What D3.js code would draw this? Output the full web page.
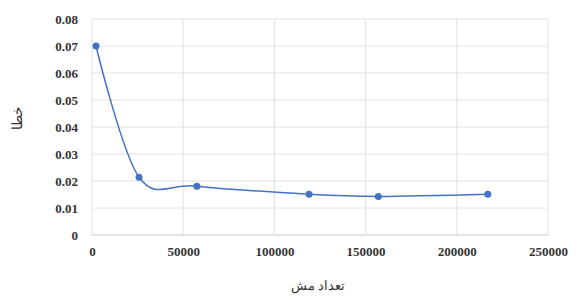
<!DOCTYPE html>
<html>
<head>
<meta charset="utf-8">
<script src="https://cdn.jsdelivr.net/npm/d3@7"></script>
<style>
  body { margin: 0; background: #fff; }
  svg text { font-family: "Liberation Serif", "DejaVu Serif", "Times New Roman", serif !important; }
</style>
</head>
<body>
<div id="chart"></div>
<script>
var meshCount = [2200, 25800, 57500, 119000, 157000, 217000];
var errorVals = [0.070, 0.0214, 0.0181, 0.0151, 0.0143, 0.0151];
var xTicks = [0, 50000, 100000, 150000, 200000, 250000];
var yTicks = [0, 0.01, 0.02, 0.03, 0.04, 0.05, 0.06, 0.07, 0.08];
var xTitle = "تعداد مش";
var yTitle = "خطا";

function init(){
    var w = 578;
    var h = 300;
    var serif = "'Liberation Serif', 'DejaVu Serif', serif";

    var svg = d3.select("#chart")
                .append("svg")
                .attr("width", w)
                .attr("height", h);

    var x = d3.scaleLinear().domain([0, 250000]).range([92, 548]);
    var y = d3.scaleLinear().domain([0, 0.08]).range([235, 19]);

    // gridlines
    svg.selectAll("line.hgrid")
        .data(yTicks)
        .enter()
        .append("line")
        .attr("x1", x(0))
        .attr("x2", x(250000))
        .attr("y1", function(d){ return y(d); })
        .attr("y2", function(d){ return y(d); })
        .style("stroke", function(d){ return d === 0 ? "#c8c8c8" : "#e2e2e2"; })
        .style("stroke-width", 1);

    svg.selectAll("line.vgrid")
        .data(xTicks)
        .enter()
        .append("line")
        .attr("x1", function(d){ return x(d); })
        .attr("x2", function(d){ return x(d); })
        .attr("y1", y(0.08))
        .attr("y2", y(0))
        .style("stroke", "#e2e2e2")
        .style("stroke-width", 1);

    // axes labels
    var xAxis = d3.axisBottom(x).tickValues(xTicks).tickFormat(d3.format("d")).tickSize(0).tickPadding(12);
    svg.append("g")
        .attr("transform", "translate(0," + y(0) + ")")
        .call(xAxis)
        .attr("font-family", serif)
        .attr("font-size", 13)
        .call(function(g){ g.select(".domain").remove(); })
        .selectAll("text")
        .style("font-weight", "bold")
        .style("fill", "#333");

    var yAxis = d3.axisLeft(y).tickValues(yTicks)
        .tickFormat(function(d){ return d === 0 ? "0" : d3.format(".2f")(d); })
        .tickSize(0).tickPadding(14);
    svg.append("g")
        .attr("transform", "translate(" + x(0) + ",0)")
        .call(yAxis)
        .attr("font-family", serif)
        .attr("font-size", 13)
        .call(function(g){ g.select(".domain").remove(); })
        .selectAll("text")
        .style("font-weight", "bold")
        .style("fill", "#333");

    // line
    var pts = meshCount.map(function(d, i){ return [d, errorVals[i]]; });
    var line = d3.line()
        .x(function(d){ return x(d[0]); })
        .y(function(d){ return y(d[1]); })
        .curve(d3.curveCardinal.tension(0));

    svg.append("path")
        .datum(pts)
        .attr("d", line)
        .style("fill", "none")
        .style("stroke", "#4472c4")
        .style("stroke-width", 1.5);

    svg.selectAll("circle")
        .data(pts)
        .enter()
        .append("circle")
        .attr("cx", function(d){ return x(d[0]); })
        .attr("cy", function(d){ return y(d[1]); })
        .attr("r", 3.5)
        .style("fill", "#4472c4");

    // titles
    svg.append("text")
        .attr("x", 318)
        .attr("y", 290)
        .attr("text-anchor", "middle")
        .attr("font-family", serif)
        .style("font-size", "13px")
        .style("fill", "#333")
        .text(xTitle);

    svg.append("text")
        .attr("transform", "translate(22,118) rotate(-90)")
        .attr("text-anchor", "middle")
        .attr("font-family", serif)
        .style("font-size", "14px")
        .style("fill", "#333")
        .text(yTitle);
}
window.onload = init;
</script>
</body>
</html>
